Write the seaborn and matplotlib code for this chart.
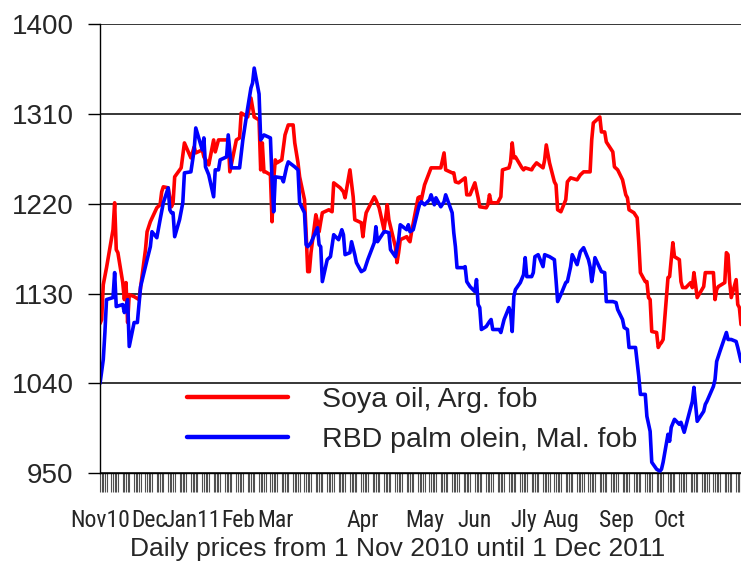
import pandas as pd
import seaborn as sns
import matplotlib.pyplot as plt
import matplotlib.transforms as mtransforms
from matplotlib import font_manager as fm

# business-day offsets from 1 Nov 2010 and prices (US$/t)
soya_day = [0, 1, 2, 4, 6, 7, 8, 9, 10, 11, 12, 13, 14, 15, 18, 20, 21, 23, 25, 27,
            28, 29, 30, 32, 33, 34, 36, 38, 40, 42, 43, 45, 46, 48, 49, 50, 51, 53, 54, 57,
            58, 60, 62, 63, 65, 67, 69, 70, 71, 72, 73, 74, 75, 76, 77, 78, 79, 80, 82, 83,
            84, 85, 86, 88, 89, 90, 91, 92, 93, 94, 95, 96, 97, 98, 99, 101, 103, 104, 106, 108,
            109, 110, 112, 113, 115, 116, 117, 118, 121, 122, 124, 125, 126, 127, 128, 130, 131, 132, 133, 135,
            136, 137, 138, 140, 141, 142, 144, 146, 148, 150, 152, 153, 155, 156, 157, 159, 161, 162, 164, 165,
            167, 168, 170, 171, 172, 173, 175, 177, 178, 180, 181, 182, 183, 184, 186, 187, 188, 190, 191, 193,
            195, 196, 197, 199, 200, 201, 202, 204, 205, 206, 208, 210, 212, 214, 216, 217, 218, 220, 221, 223,
            224, 226, 227, 229, 230, 232, 233, 234, 235, 237, 238, 239, 240, 241, 242, 243, 244, 245, 246, 247,
            248, 249, 250, 251, 253, 254, 255, 256, 257, 259, 260, 261, 262, 263, 264, 266, 267, 268, 270, 271,
            272, 273, 275, 276, 277, 278, 279, 280, 281, 282, 283]
soya_price = [1100, 1104, 1139, 1156, 1194, 1221, 1174, 1171, 1141, 1124, 1141, 1101, 1129, 1127, 1124, 1174, 1192, 1202, 1216, 1219,
              1232, 1237, 1236, 1217, 1221, 1247, 1256, 1281, 1266, 1277, 1271, 1274, 1267, 1262, 1259, 1284, 1272, 1284, 1284, 1284,
              1252, 1284, 1286, 1311, 1307, 1326, 1307, 1304, 1254, 1281, 1252, 1252, 1249, 1202, 1244, 1264, 1261, 1264, 1289, 1294,
              1299, 1299, 1281, 1261, 1247, 1224, 1191, 1152, 1152, 1171, 1209, 1202, 1192, 1202, 1211, 1214, 1212, 1241, 1236, 1232,
              1226, 1254, 1227, 1204, 1201, 1187, 1201, 1211, 1227, 1224, 1216, 1194, 1206, 1219, 1204, 1177, 1161, 1171, 1184, 1187,
              1184, 1182, 1192, 1226, 1227, 1224, 1239, 1256, 1256, 1256, 1271, 1254, 1251, 1251, 1242, 1241, 1246, 1229, 1229, 1241,
              1226, 1217, 1216, 1219, 1229, 1221, 1221, 1227, 1254, 1256, 1262, 1281, 1266, 1267, 1256, 1254, 1256, 1254, 1257, 1261,
              1256, 1264, 1279, 1261, 1242, 1239, 1214, 1212, 1224, 1242, 1246, 1244, 1249, 1252, 1252, 1284, 1301, 1307, 1292, 1292,
              1282, 1272, 1257, 1254, 1244, 1229, 1226, 1214, 1211, 1206, 1181, 1151, 1142, 1142, 1126, 1124, 1092, 1091, 1076, 1079,
              1081, 1084, 1146, 1147, 1181, 1167, 1164, 1142, 1136, 1136, 1141, 1136, 1151, 1139, 1126, 1137, 1151, 1151, 1151, 1124,
              1134, 1137, 1141, 1171, 1169, 1142, 1126, 1144, 1119, 1116, 1099]

palm_day = [0, 2, 3, 4, 6, 7, 8, 10, 11, 13, 14, 15, 17, 19, 21, 23, 24, 25, 27, 29,
            30, 31, 32, 33, 34, 35, 37, 38, 40, 42, 43, 45, 46, 47, 49, 50, 51, 53, 54, 56,
            57, 59, 61, 62, 64, 65, 67, 68, 69, 70, 71, 73, 75, 76, 77, 78, 80, 81, 83, 84,
            86, 88, 89, 90, 91, 92, 94, 96, 97, 98, 99, 100, 102, 104, 105, 107, 108, 109, 110, 111,
            113, 114, 115, 117, 119, 121, 122, 123, 125, 126, 128, 129, 130, 132, 133, 135, 136, 137, 139, 140,
            141, 142, 144, 145, 146, 148, 149, 150, 152, 153, 155, 156, 157, 158, 160, 161, 162, 164, 165, 166,
            167, 168, 169, 170, 172, 173, 174, 176, 177, 179, 180, 181, 182, 183, 184, 185, 187, 188, 189, 190,
            191, 192, 194, 195, 196, 199, 200, 201, 202, 204, 205, 206, 208, 209, 210, 212, 214, 215, 216, 217,
            218, 219, 221, 223, 224, 226, 228, 229, 230, 231, 233, 234, 236, 237, 238, 239, 240, 241, 243, 244,
            245, 247, 248, 249, 250, 251, 252, 254, 255, 256, 258, 260, 261, 262, 264, 266, 267, 268, 270, 271,
            272, 274, 275, 276, 277, 279, 280, 281, 283]
palm_price = [1040, 1064, 1091, 1124, 1126, 1151, 1117, 1119, 1111, 1124, 1077, 1101, 1101, 1137, 1164, 1177, 1192, 1186, 1204, 1221,
              1236, 1214, 1211, 1211, 1187, 1204, 1221, 1251, 1252, 1274, 1296, 1274, 1286, 1257, 1249, 1227, 1254, 1254, 1264, 1267,
              1289, 1256, 1256, 1256, 1284, 1316, 1336, 1341, 1356, 1330, 1284, 1289, 1286, 1244, 1212, 1247, 1246, 1242, 1257, 1262,
              1257, 1254, 1221, 1211, 1179, 1177, 1181, 1196, 1179, 1177, 1142, 1164, 1167, 1189, 1184, 1194, 1189, 1169, 1171, 1182,
              1169, 1161, 1152, 1154, 1164, 1181, 1197, 1182, 1192, 1192, 1191, 1174, 1167, 1184, 1199, 1194, 1199, 1192, 1194, 1214,
              1220, 1222, 1219, 1224, 1229, 1219, 1226, 1217, 1222, 1229, 1211, 1191, 1177, 1156, 1156, 1157, 1142, 1137, 1132, 1144,
              1119, 1116, 1094, 1097, 1102, 1104, 1094, 1094, 1091, 1104, 1116, 1111, 1092, 1127, 1134, 1141, 1149, 1166, 1147, 1147,
              1151, 1167, 1169, 1157, 1169, 1167, 1164, 1144, 1122, 1129, 1141, 1142, 1157, 1169, 1159, 1172, 1176, 1164, 1157, 1142,
              1152, 1166, 1152, 1151, 1122, 1122, 1121, 1114, 1104, 1096, 1094, 1076, 1076, 1061, 1047, 1029, 1029, 1007, 992, 961,
              954, 952, 954, 961, 989, 982, 996, 1004, 999, 1001, 991, 1016, 1022, 1036, 1002, 1012, 1019, 1022, 1037, 1044,
              1062, 1072, 1086, 1091, 1084, 1084, 1082, 1076, 1062]

month_labels = ['Nov10', 'Dec', 'Jan11', 'Feb', 'Mar', 'Apr', 'May', 'Jun', 'Jly', 'Aug', 'Sep', 'Oct']
month_label_day = [0, 22, 41, 61, 78, 116, 144, 165, 187, 204, 228, 251]
y_ticks = [950, 1040, 1130, 1220, 1310, 1400]


def narrow_font(size):
    # the month labels are set in a narrow face; take one if the system has it
    prefer = ['Liberation Sans Narrow', 'Roboto Condensed', 'Noto Sans', 'Open Sans', 'DejaVu Sans']
    found = []
    for f in fm.fontManager.ttflist:
        narrowish = ('Narrow' in f.name or 'Condensed' in f.name
                     or f.stretch in ('condensed', 'semi-condensed', 'extra-condensed'))
        regular = f.style == 'normal' and f.weight in (400, 'normal', 'regular', 'book')
        if narrowish and regular:
            found.append(f)
    for name in prefer:
        for f in found:
            if f.name.startswith(name):
                return fm.FontProperties(fname=f.fname, size=size)
    if found:
        return fm.FontProperties(fname=found[0].fname, size=size)
    return fm.FontProperties(family='Liberation Sans', size=size * 0.75)


if __name__ == "__main__":
    sns.set_style('white')
    plt.rcParams['font.family'] = ['Liberation Sans', 'DejaVu Sans']

    days = pd.bdate_range('2010-11-01', '2011-12-01')

    fig = plt.figure(figsize=(7.41, 5.62), dpi=100)
    ax = fig.add_axes([0.135, 0.158, 0.865, 0.799])

    sns.lineplot(x=days[soya_day], y=soya_price, ax=ax, color='#ff0000', linewidth=2.6,
                 label='Soya oil, Arg. fob')
    sns.lineplot(x=days[palm_day], y=palm_price, ax=ax, color='#0000ff', linewidth=2.6,
                 label='RBD palm olein, Mal. fob')

    ax.set_xlim(days[0], days[-1])
    ax.set_ylim(950, 1400)
    ax.set_yticks(y_ticks)
    ax.set_yticklabels([str(v) for v in y_ticks], fontsize=20)
    ax.set_xticks(days)
    ax.set_xticklabels([])
    ax.tick_params(axis='x', direction='out', length=14, width=0.8, color='#505050', bottom=True)
    ax.tick_params(axis='y', direction='out', length=9, width=1.0, color='black', pad=10, left=True)
    ax.set_xlabel('')
    ax.set_ylabel('')

    ax.grid(axis='y', color='black', linewidth=1.1)
    ax.grid(axis='x', visible=False)
    for side in ['top', 'right']:
        ax.spines[side].set_visible(False)
    for side in ['left', 'bottom']:
        ax.spines[side].set_color('black')
        ax.spines[side].set_linewidth(1.0)

    month_font = narrow_font(17)
    trans = mtransforms.blended_transform_factory(ax.transData, ax.transAxes)
    for lab, d in zip(month_labels, month_label_day):
        ax.text(days[d], -0.105, lab, transform=trans, ha='center', va='center',
                fontproperties=month_font, clip_on=False)

    fig.text(0.536, 0.024, 'Daily prices from 1 Nov 2010 until 1 Dec 2011',
             ha='center', va='center', fontsize=19)

    leg = ax.legend(loc='upper left', bbox_to_anchor=(0.136, 0.192), frameon=False,
                    fontsize=20.5, handlelength=3.55, handletextpad=1.2, labelspacing=0.5,
                    borderpad=0, borderaxespad=0)
    for line in leg.get_lines():
        line.set_linewidth(3.2)

    fig.savefig('out.png', dpi=100)
